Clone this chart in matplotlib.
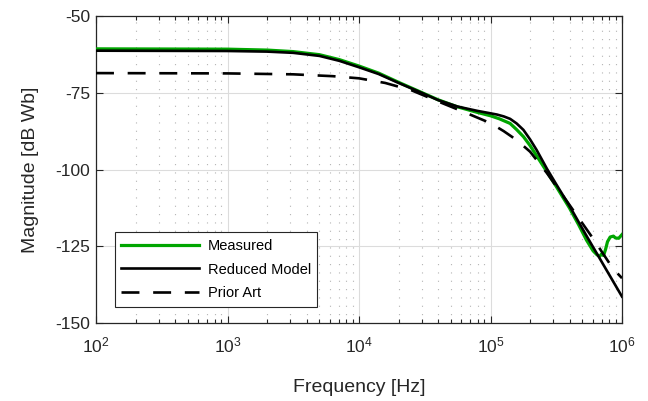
import matplotlib
matplotlib.use("Agg")
import matplotlib.pyplot as plt
import numpy as np
from matplotlib.ticker import LogLocator, LogFormatterMathtext, NullFormatter, FixedLocator, NullLocator

plt.rcParams['font.family'] = ['Liberation Sans', 'DejaVu Sans']
plt.rcParams['mathtext.default'] = 'regular'
plt.rcParams['axes.unicode_minus'] = False

# Measured response
meas_f = [100, 1000, 2000, 3160, 5000, 7080, 10000, 14100, 20000, 28800, 40000, 56200,
          79400, 100000, 117000, 141000, 158000, 178000, 200000, 224000, 269000, 316000,
          398000, 468000, 537000, 603000, 646000, 676000, 700000, 724000, 750000, 776000,
          813000, 861000, 891000, 944000, 1000000]
meas_db = [-60.7, -60.8, -61.1, -61.6, -62.6, -64.2, -66.3, -68.6, -71.6, -74.6, -77.3, -79.6,
           -81.4, -82.5, -83.5, -85.0, -87.0, -89.3, -92.2, -95.5, -100.8, -105.5,
           -112.5, -118.0, -123.0, -126.5, -127.8, -128.3, -127.5, -128.0, -126.0, -123.5,
           -122.0, -121.7, -122.3, -122.4, -121.2]

# Reduced model
red_f = [100, 1000, 2000, 3160, 5000, 7080, 10000, 14100, 20000, 28800, 40000, 56200,
         79400, 100000, 112000, 126000, 141000, 158000, 178000, 200000, 224000, 269000,
         316000, 398000, 537000, 708000, 1000000]
red_db = [-61.3, -61.4, -61.6, -62.0, -63.0, -64.6, -66.7, -68.9, -71.8, -74.7, -77.4, -79.5,
          -80.9, -81.7, -82.1, -82.7, -83.5, -85.0, -87.1, -90.2, -93.6, -99.8,
          -104.8, -111.8, -121.6, -130.4, -141.4]

# Prior art model
prior_f = [100, 1000, 3160, 6310, 10000, 15800, 25100, 39800, 63100, 100000, 126000,
           158000, 200000, 269000, 398000, 603000, 851000, 1000000]
prior_db = [-68.6, -68.7, -69.0, -69.6, -70.3, -71.8, -74.2, -77.8, -81.3, -84.9, -87.5,
            -90.4, -94.2, -101.2, -111.5, -122.5, -132.2, -135.4]

series_labels = ['Measured', 'Reduced Model', 'Prior Art']
y_ticks = [-150, -125, -100, -75, -50]

text_col = '#262626'

fig = plt.figure(figsize=(6.48, 4.01), dpi=100)
ax = fig.add_axes([96/648, 78/401, 526/648, 307/401])

ax.semilogx(meas_f, meas_db, color='#00a600', lw=2.3, label=series_labels[0], zorder=3)
ax.semilogx(red_f, red_db, color='black', lw=1.9, label=series_labels[1], zorder=4)
ax.semilogx(prior_f, prior_db, color='black', lw=1.9, dashes=(6.8, 5.2),
            label=series_labels[2], zorder=5)

ax.set_xlim(1e2, 1e6)
ax.set_ylim(-150, -50)
ax.yaxis.set_major_locator(FixedLocator(y_ticks))
ax.yaxis.set_minor_locator(NullLocator())
ax.xaxis.set_major_locator(LogLocator(base=10, numticks=10))
ax.xaxis.set_minor_locator(LogLocator(base=10, subs=np.arange(2, 10), numticks=20))
ax.xaxis.set_major_formatter(LogFormatterMathtext())
ax.xaxis.set_minor_formatter(NullFormatter())

ax.grid(which='major', axis='both', color='#dcdcdc', lw=0.8, ls='-', zorder=0)
ax.grid(which='minor', axis='x', color='#b4b4b4', lw=0.8, ls=(0, (1, 6.5)), zorder=0)
ax.set_axisbelow(True)

ax.tick_params(which='both', direction='in', top=True, right=True, colors=text_col,
               labelcolor=text_col, width=0.8)
ax.tick_params(which='major', length=5, labelsize=12.5)
ax.tick_params(axis='y', which='major', pad=4)
ax.tick_params(axis='x', which='major', pad=9)
ax.tick_params(which='minor', length=3)
for sp in ax.spines.values():
    sp.set_color(text_col)
    sp.set_linewidth(0.9)

ax.set_xlabel('Frequency [Hz]', fontsize=14, color=text_col, labelpad=17)
ax.set_ylabel('Magnitude [dB Wb]', fontsize=14, color=text_col, labelpad=12)

leg = ax.legend(loc='lower left', bbox_to_anchor=(0.036, 0.052), fontsize=10.5,
                handlelength=5.3, handletextpad=0.6, labelspacing=0.68,
                borderpad=0.45, borderaxespad=0, fancybox=False, framealpha=1,
                edgecolor=text_col)
leg.get_frame().set_linewidth(0.8)

fig.savefig('out.png', dpi=100)
